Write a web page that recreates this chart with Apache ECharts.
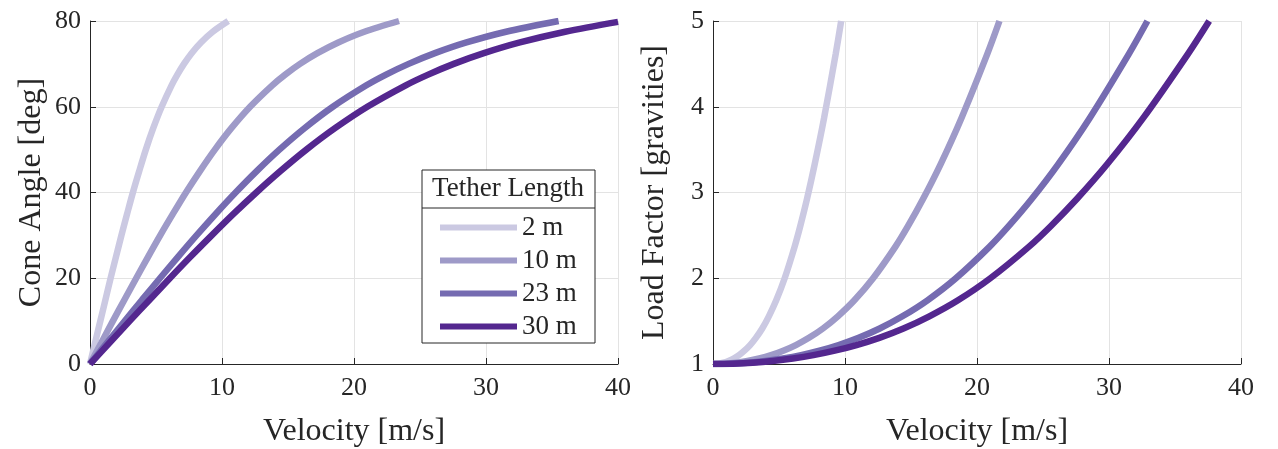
<!DOCTYPE html>
<html>
<head>
<meta charset="utf-8">
<script src="https://cdn.jsdelivr.net/npm/echarts@6/dist/echarts.min.js"></script>
<style>
  html, body { margin: 0; padding: 0; background: #fff; }
  #chart-container { width: 1278px; height: 449px; }
</style>
</head>
<body>
<div id="chart-container"></div>
<script>
// Tether lengths shown in the legend
var tetherLengths = ['2 m', '10 m', '23 m', '30 m'];
var lineColors = ['#cbc9e2', '#9e9ac8', '#756bb1', '#54278f'];

// Left panel: cone angle [deg] and the velocity read for each tether
var coneAngle = [0, 5, 10, 15, 20, 25, 30, 35, 40, 45, 50, 55, 60, 65, 67.5, 70, 72.5, 75, 77.5, 80];
var angle30   = [0, 5, 10, 15, 20, 25, 30, 35, 40, 45, 50, 55, 60, 65, 67.5, 70, 72.5, 75, 77.5, 79.8];
var vel2  = [0, 0.39, 0.78, 1.17, 1.56, 1.97, 2.38, 2.81, 3.25, 3.73, 4.23, 4.79, 5.43, 6.18, 6.62, 7.12, 7.70, 8.41, 9.30, 10.47];
var vel10 = [0, 0.87, 1.73, 2.61, 3.50, 4.40, 5.32, 6.28, 7.27, 8.33, 9.46, 10.71, 12.13, 13.81, 14.79, 15.91, 17.23, 18.81, 20.79, 23.41];
var vel23 = [0, 1.31, 2.63, 3.95, 5.30, 6.67, 8.07, 9.52, 11.03, 12.63, 14.35, 16.25, 18.40, 20.94, 22.43, 24.14, 26.13, 28.52, 31.52, 35.50];
var vel30 = [0, 1.50, 3.00, 4.52, 6.05, 7.61, 9.22, 10.87, 12.60, 14.43, 16.39, 18.56, 21.01, 23.92, 25.62, 27.56, 29.84, 32.57, 36.00, 40.00];

// Right panel: load factor [g] and velocity for each tether
var loadFactor = [1, 1.004, 1.015, 1.035, 1.064, 1.103, 1.155, 1.221, 1.305, 1.414, 1.556, 1.743, 2.0, 2.366, 2.613, 2.924, 3.326, 3.864, 4.620, 5.0];
var velLoad2  = [0, 0.39, 0.78, 1.17, 1.56, 1.97, 2.38, 2.81, 3.25, 3.73, 4.23, 4.79, 5.43, 6.18, 6.62, 7.12, 7.70, 8.41, 9.30, 9.71];
var velLoad10 = [0, 0.87, 1.73, 2.61, 3.50, 4.40, 5.32, 6.28, 7.27, 8.33, 9.46, 10.71, 12.13, 13.81, 14.79, 15.91, 17.23, 18.81, 20.79, 21.70];
var velLoad23 = [0, 1.31, 2.63, 3.95, 5.30, 6.67, 8.07, 9.52, 11.03, 12.63, 14.35, 16.25, 18.40, 20.94, 22.43, 24.14, 26.13, 28.52, 31.52, 32.91];
var velLoad30 = [0, 1.50, 3.00, 4.52, 6.05, 7.61, 9.22, 10.87, 12.60, 14.43, 16.39, 18.56, 21.01, 23.92, 25.62, 27.56, 29.84, 32.57, 36.00, 37.59];

function pairs(xs, ys) {
    return xs.map(function (x, i) { return [x, ys[i]]; });
}

var FONT = 'Liberation Serif';
var INK = '#262626';

function valueAxis(idx, min, max, interval, name, isX) {
    return {
        type: 'value',
        gridIndex: idx,
        min: min,
        max: max,
        interval: interval,
        name: name,
        nameLocation: 'middle',
        nameGap: isX ? 52 : 42,
        nameTextStyle: { fontFamily: FONT, fontSize: 32, color: INK },
        axisLine: { show: true, onZero: false, lineStyle: { color: INK, width: 1 } },
        axisTick: { show: true, inside: true, length: 6, lineStyle: { color: INK } },
        axisLabel: { fontFamily: FONT, fontSize: 26, color: INK, margin: isX ? 11 : 9 },
        splitLine: { show: true, lineStyle: { color: '#e3e3e3', width: 1 } }
    };
}

var leftData = [pairs(vel2, coneAngle), pairs(vel10, coneAngle), pairs(vel23, coneAngle), pairs(vel30, angle30)];
var rightData = [pairs(velLoad2, loadFactor), pairs(velLoad10, loadFactor), pairs(velLoad23, loadFactor), pairs(velLoad30, loadFactor)];

var series = [];
tetherLengths.forEach(function (name, i) {
    series.push({
        name: name, type: 'line', xAxisIndex: 0, yAxisIndex: 0,
        data: leftData[i], smooth: 0.3, showSymbol: false,
        lineStyle: { color: lineColors[i], width: 6.5 }, itemStyle: { color: lineColors[i] }
    });
    series.push({
        name: name, type: 'line', xAxisIndex: 1, yAxisIndex: 1,
        data: rightData[i], smooth: 0.3, showSymbol: false,
        lineStyle: { color: lineColors[i], width: 6.5 }, itemStyle: { color: lineColors[i] }
    });
});

var myChart = echarts.init(document.getElementById('chart-container'));

var option = {
    animation: false,
    backgroundColor: '#fff',
    grid: [
        { left: 90, top: 21, width: 528, height: 343, outerBoundsMode: 'none' },
        { left: 713, top: 21, width: 528, height: 343, outerBoundsMode: 'none' }
    ],
    xAxis: [
        valueAxis(0, 0, 40, 10, 'Velocity [m/s]', true),
        valueAxis(1, 0, 40, 10, 'Velocity [m/s]', true)
    ],
    yAxis: [
        valueAxis(0, 0, 80, 20, 'Cone Angle [deg]', false),
        valueAxis(1, 1, 5, 1, 'Load Factor [gravities]', false)
    ],
    legend: {
        data: tetherLengths,
        orient: 'vertical',
        left: 440,
        top: 214,
        padding: 0,
        icon: 'rect',
        itemWidth: 77,
        itemHeight: 6,
        itemGap: 6,
        textStyle: { fontFamily: FONT, fontSize: 27, color: INK, lineHeight: 26 }
    },
    // legend box with its title row
    graphic: [
        {
            type: 'rect', z: 1,
            shape: { x: 422, y: 170, width: 173, height: 173 },
            style: { fill: '#fff', stroke: INK, lineWidth: 1 }
        },
        {
            type: 'line', z: 2,
            shape: { x1: 422, y1: 208, x2: 595, y2: 208 },
            style: { stroke: INK, lineWidth: 1 }
        },
        {
            type: 'text', z: 2,
            x: 508, y: 189,
            style: {
                text: 'Tether Length', fontFamily: FONT, fontSize: 27, fill: INK,
                align: 'center', verticalAlign: 'middle'
            }
        }
    ],
    series: series
};
myChart.setOption(option);
</script>
</body>
</html>
